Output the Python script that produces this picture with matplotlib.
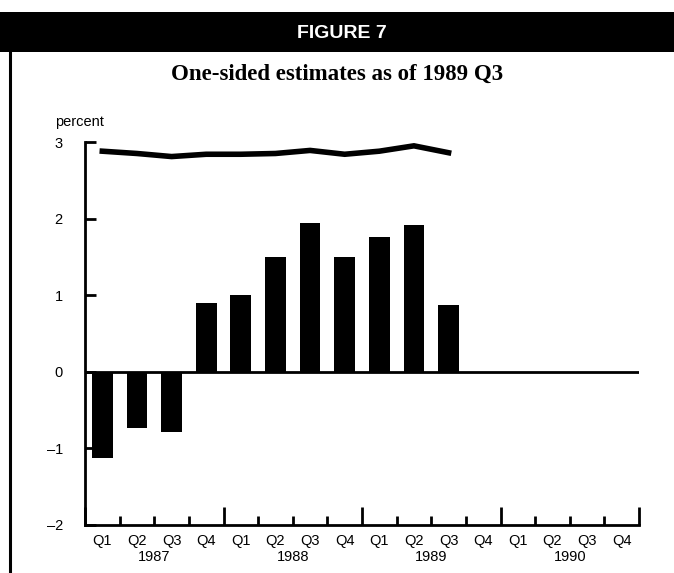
import matplotlib
matplotlib.use("Agg")
import matplotlib.pyplot as plt
import matplotlib.transforms as mtransforms
from matplotlib.patches import Rectangle
from matplotlib.lines import Line2D

# data
quarters = ["Q1", "Q2", "Q3", "Q4"] * 4
years = ["1987", "1988", "1989", "1990"]
bar_values = [-1.13, -0.74, -0.78, 0.90, 1.00, 1.50, 1.94, 1.50, 1.76, 1.92, 0.87]
line_values = [2.88, 2.85, 2.81, 2.84, 2.84, 2.85, 2.89, 2.84, 2.88, 2.95, 2.86]
yticks = [-2, -1, 0, 1, 2, 3]

W, H = 674, 573
fig = plt.figure(figsize=(W / 100, H / 100), dpi=100)

# header band and frame line
fig.patches.append(Rectangle((0, 1 - 52 / H), 1, 40 / H, transform=fig.transFigure,
                             facecolor="black", edgecolor="none"))
fig.lines.append(Line2D([10 / W, 10 / W], [0, 1 - 52 / H], transform=fig.transFigure,
                        color="black", lw=2.2))
fig.text(342 / W, 1 - 34 / H, "FIGURE 7", color="white", fontsize=14, fontweight="bold",
         family="Liberation Sans", ha="center", va="center")
fig.text(337 / W, 1 - 80 / H, "One-sided estimates as of 1989 Q3", fontsize=16.5,
         fontweight="bold", family="Liberation Serif", ha="center", va="baseline")
fig.text(55 / W, 1 - 126 / H, "percent", fontsize=10.5, family="Liberation Sans",
         ha="left", va="baseline")

ax = fig.add_axes([85 / W, 48 / H, (639 - 85) / W, (525 - 142) / H])
ax.set_xlim(0, 16)
ax.set_ylim(-2, 3)

xs = [i + 0.5 for i in range(len(bar_values))]
ax.bar(xs, bar_values, width=0.6, color="black")
ax.plot(xs, line_values, color="black", lw=4, solid_joinstyle="miter")
ax.axhline(0, color="black", lw=2)

for s in ["top", "right"]:
    ax.spines[s].set_visible(False)
for s in ["left", "bottom"]:
    ax.spines[s].set_linewidth(2)

ax.set_yticks(yticks)
ax.set_yticklabels([str(v).replace("-", "\u2013") for v in yticks],
                   family="Liberation Sans", fontsize=10.5)
ax.tick_params(axis="y", direction="in", length=8, width=2, pad=16)

ax.set_xticks([0, 4, 8, 12, 16])
ax.set_xticks([q for q in range(17) if q % 4], minor=True)
ax.set_xticklabels([])
ax.tick_params(axis="x", which="major", direction="in", length=13, width=2)
ax.tick_params(axis="x", which="minor", direction="in", length=6.5, width=2)

trans = mtransforms.blended_transform_factory(ax.transData, fig.transFigure)
for i, q in enumerate(quarters):
    ax.text(i + 0.5, 1 - 545 / H, q, transform=trans, ha="center", va="baseline",
            fontsize=10.5, family="Liberation Sans")
for j, y in enumerate(years):
    ax.text(4 * j + 2, 1 - 561 / H, y, transform=trans, ha="center", va="baseline",
            fontsize=10.5, family="Liberation Sans")

fig.savefig("out.png", dpi=100)
